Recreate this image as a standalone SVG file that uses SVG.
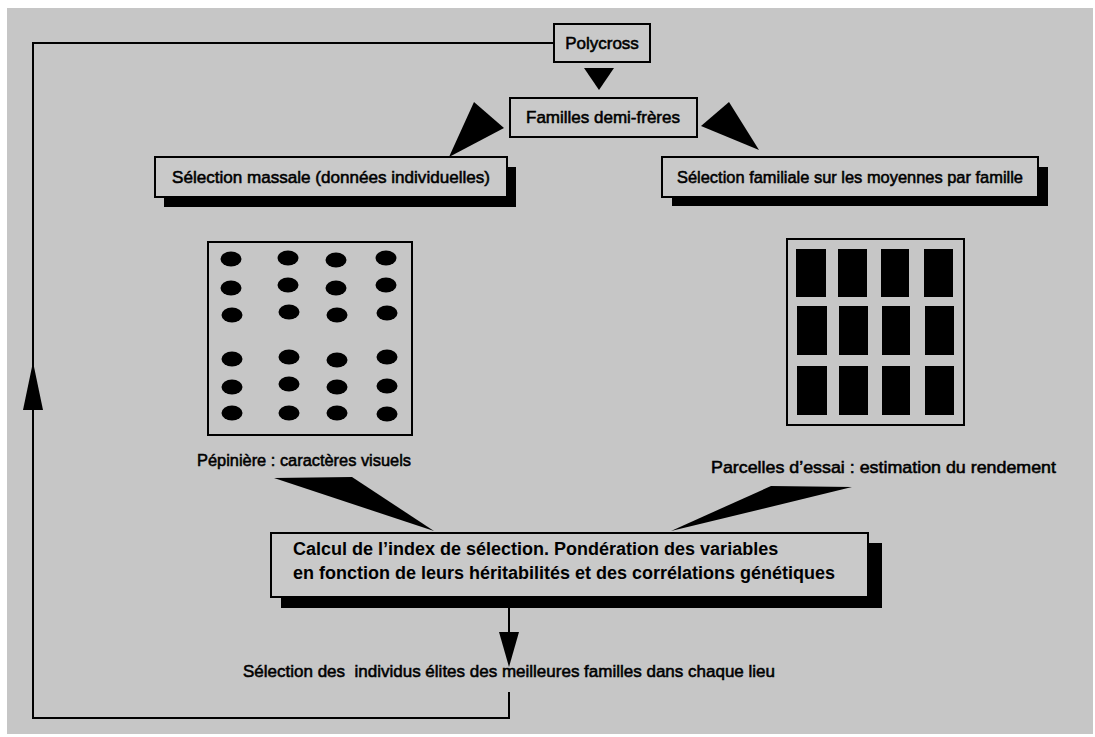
<svg xmlns="http://www.w3.org/2000/svg" width="1095" height="737" viewBox="0 0 1095 737">
<defs>
<style>
.bg{fill:#c6c6c6}
.box{fill:#c9c9c9;stroke:#000;stroke-width:2}
.shadow{fill:#000}
.lbl{font-family:"Liberation Sans",Arial,sans-serif;font-size:17px;fill:#000;stroke:#000;stroke-width:0.55}
.bold{font-family:"Liberation Sans",Arial,sans-serif;font-size:18px;font-weight:bold;fill:#000}
.line{fill:none;stroke:#000;stroke-width:2}
.wedge{fill:#000}
.panel{fill:none;stroke:#000;stroke-width:2}
</style>
</defs>
<rect width="1095" height="737" fill="#fff"/>
<rect class="bg" x="7" y="8" width="1086" height="726"/>

<g id="connectors">
<polyline class="line" points="554,43 33,43 33,718 509,718 509,692"/>
<polygon class="wedge" points="33,362 23,410 43,410"/>
<polygon class="wedge" points="584,68 614,68 599,90"/>
<polygon class="wedge" points="474,102 504,128 449,157"/>
<polygon class="wedge" points="729,102 701,126 759,150"/>
<polygon class="wedge" points="274,478 352,477 434,531"/>
<polygon class="wedge" points="771,486 852,487 671,531"/>
<line class="line" x1="509" y1="608" x2="509" y2="640"/>
<polygon class="wedge" points="499,632 519,632 509,667"/>
</g>

<g id="polycross">
<rect class="box" x="554" y="24" width="96" height="38"/>
<text class="lbl" x="602" y="49" text-anchor="middle">Polycross</text>
</g>

<g id="familles">
<rect class="box" x="510" y="98" width="187" height="39"/>
<text class="lbl" x="603" y="123" text-anchor="middle">Familles demi-frères</text>
</g>

<g id="selection-massale">
<rect class="shadow" x="164" y="167" width="352" height="40"/>
<rect class="box" x="155" y="157" width="352" height="40"/>
<text class="lbl" x="331" y="183" text-anchor="middle" textLength="318" lengthAdjust="spacingAndGlyphs">Sélection massale (données individuelles)</text>
</g>

<g id="selection-familiale">
<rect class="shadow" x="672" y="167" width="376" height="39"/>
<rect class="box" x="662" y="157" width="376" height="40"/>
<text class="lbl" x="850" y="183" text-anchor="middle" textLength="346" lengthAdjust="spacingAndGlyphs">Sélection familiale sur les moyennes par famille</text>
</g>

<g id="pepiniere">
<rect class="panel" x="208" y="242" width="204" height="193"/>
<g fill="#000">
<ellipse cx="231" cy="259" rx="10.5" ry="7.5"/><ellipse cx="288" cy="258" rx="10.5" ry="7.5"/><ellipse cx="336" cy="260" rx="10.5" ry="7.5"/><ellipse cx="386" cy="258" rx="10.5" ry="7.5"/>
<ellipse cx="231" cy="288" rx="10.5" ry="7.5"/><ellipse cx="288" cy="285" rx="10.5" ry="7.5"/><ellipse cx="336" cy="288" rx="10.5" ry="7.5"/><ellipse cx="386" cy="285" rx="10.5" ry="7.5"/>
<ellipse cx="232" cy="315" rx="10.5" ry="7.5"/><ellipse cx="289" cy="312" rx="10.5" ry="7.5"/><ellipse cx="337" cy="315" rx="10.5" ry="7.5"/><ellipse cx="387" cy="313" rx="10.5" ry="7.5"/>
<ellipse cx="232" cy="359" rx="10.5" ry="7.5"/><ellipse cx="289" cy="357" rx="10.5" ry="7.5"/><ellipse cx="337" cy="360" rx="10.5" ry="7.5"/><ellipse cx="387" cy="357" rx="10.5" ry="7.5"/>
<ellipse cx="232" cy="387" rx="10.5" ry="7.5"/><ellipse cx="289" cy="384" rx="10.5" ry="7.5"/><ellipse cx="337" cy="387" rx="10.5" ry="7.5"/><ellipse cx="387" cy="386" rx="10.5" ry="7.5"/>
<ellipse cx="232" cy="413" rx="10.5" ry="7.5"/><ellipse cx="289" cy="413" rx="10.5" ry="7.5"/><ellipse cx="337" cy="413" rx="10.5" ry="7.5"/><ellipse cx="387" cy="414" rx="10.5" ry="7.5"/>
</g>
<text class="lbl" x="197" y="466" textLength="214" lengthAdjust="spacingAndGlyphs">Pépinière : caractères visuels</text>
</g>

<g id="parcelles">
<rect class="panel" x="787" y="239" width="177" height="186"/>
<g fill="#000">
<rect x="796" y="249" width="30" height="48"/><rect x="838" y="249" width="29" height="48"/><rect x="881" y="249" width="28" height="48"/><rect x="924" y="249" width="29" height="48"/>
<rect x="797" y="306" width="30" height="49"/><rect x="839" y="306" width="29" height="49"/><rect x="882" y="306" width="28" height="49"/><rect x="925" y="306" width="29" height="49"/>
<rect x="797" y="366" width="30" height="49"/><rect x="839" y="366" width="29" height="49"/><rect x="882" y="366" width="28" height="49"/><rect x="925" y="366" width="29" height="49"/>
</g>
<text class="lbl" x="711" y="473" textLength="345" lengthAdjust="spacingAndGlyphs">Parcelles d’essai : estimation du rendement</text>
</g>

<g id="calcul">
<rect class="shadow" x="281" y="543" width="601" height="65"/>
<rect class="box" x="271" y="533" width="597" height="64"/>
<text class="bold" x="293" y="555">Calcul de l’index de sélection. Pondération des variables</text>
<text class="bold" x="293" y="579">en fonction de leurs héritabilités et des corrélations génétiques</text>
</g>

<g id="selection-elites">
<text class="lbl" x="509" y="677" text-anchor="middle" xml:space="preserve">Sélection des  individus élites des meilleures familles dans chaque lieu</text>
</g>
</svg>
